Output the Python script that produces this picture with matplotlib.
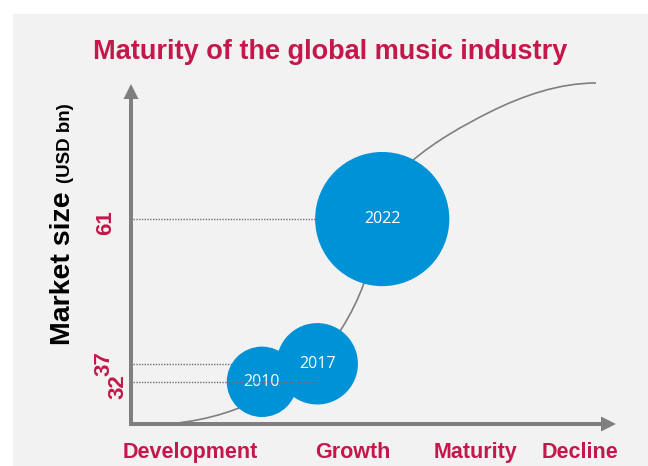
import numpy as np
import matplotlib
matplotlib.use('Agg')
import matplotlib.pyplot as plt
from matplotlib.patches import Rectangle, FancyArrow, PathPatch
from matplotlib.path import Path

# ---------------- data ----------------
title = 'Maturity of the global music industry'
years = ['2010', '2017', '2022']
market_size = [32, 37, 61]            # USD bn
stages = ['Development', 'Growth', 'Maturity', 'Decline']

# ---------------- layout / style ----------------
W, H = 648, 466
AX_L, AX_R, AX_B, AX_T = 131, 616, 424, 84   # axis arrows (pixels)
bubble_x = [27.0, 38.4, 51.8]                # position along lifecycle axis (0-100)
stage_x = [12.2, 45.8, 71.1, 92.6]
label_dx = [13.5, 27.5, 25.5]                # y-label offsets left of axis (px)
label_dy = [-4.5, 0, -4]
power, ymax = 2.45, 75
r_per_bn = 1.1                               # bubble radius px per USD bn
CRIMSON = '#c4174b'
BLUE = '#0092d6'
GRAY = '#7f7f7f'
FONT = ['Liberation Sans', 'DejaVu Sans']

# S-curve knots (pixel coords, slope dy/dx)
knots = [(160, 424, -0.02), (342, 328, -1.6), (364, 283, -2.8), (380, 230, -4.0),
         (412, 161, -0.85), (490, 112, -0.5), (596, 83, 0.0)]

plt.rcParams['font.family'] = FONT
fig = plt.figure(figsize=(W / 100, H / 100), dpi=100)
fig.patch.set_facecolor('white')

bg = fig.add_axes([0, 0, 1, 1])
bg.set_xlim(0, W)
bg.set_ylim(H, 0)
bg.axis('off')
bg.set_zorder(0)
bg.add_patch(Rectangle((13, 14), W - 13, H - 14, color='#f2f2f2', lw=0))

# axis arrows
bg.add_patch(FancyArrow(AX_L, AX_B + 2, 0, AX_T - AX_B - 2, width=4, head_width=15,
                        head_length=15, length_includes_head=True, color=GRAY, lw=0))
bg.add_patch(FancyArrow(AX_L - 2, AX_B, AX_R - AX_L + 2, 0, width=4, head_width=15,
                        head_length=15, length_includes_head=True, color=GRAY, lw=0))

# title
bg.text(330, 59, title, ha='center', va='baseline', fontsize=19.5, fontweight='bold',
        color=CRIMSON)
# y axis title
bg.text(70, 345, 'Market size', rotation=90, rotation_mode='anchor', ha='left',
        va='baseline', fontsize=20.5, fontweight='bold', color='black')
bg.text(70, 183, '(USD bn)', rotation=90, rotation_mode='anchor', ha='left',
        va='baseline', fontsize=13.5, fontweight='bold', color='black')

# main axes
ax = fig.add_axes([AX_L / W, (H - AX_B) / H, (AX_R - AX_L) / W, (AX_B - AX_T) / H])
ax.set_zorder(1)
ax.patch.set_alpha(0)
fwd = lambda v: np.sign(v) * np.abs(v) ** power
inv = lambda u: np.sign(u) * np.abs(u) ** (1 / power)
ax.set_yscale('function', functions=(fwd, inv))
ax.set_xlim(0, 100)
ax.set_ylim(0, ymax)
for s in ax.spines.values():
    s.set_visible(False)
ax.set_yticks([])
ax.set_xticks(stage_x, stages)
ax.tick_params(axis='x', length=0, pad=13, labelcolor=CRIMSON, labelsize=15.5)
for t in ax.get_xticklabels():
    t.set_fontweight('bold')

# S-curve as Bezier path
verts, codes = [], []
for i in range(len(knots) - 1):
    x0, y0, m0 = knots[i]
    x1, y1, m1 = knots[i + 1]
    L = np.hypot(x1 - x0, y1 - y0) / 3
    d0 = np.array([1, m0]) / np.hypot(1, m0)
    d1 = np.array([1, m1]) / np.hypot(1, m1)
    p0 = np.array([x0, y0]); p3 = np.array([x1, y1])
    p1 = p0 + L * d0; p2 = p3 - L * d1
    if i == 0:
        verts.append(p0); codes.append(Path.MOVETO)
    verts += [p1, p2, p3]; codes += [Path.CURVE4] * 3
ax.add_patch(PathPatch(Path(verts, codes), fill=False, edgecolor=GRAY, lw=1.2,
                       transform=bg.transData, clip_on=False, zorder=1))

# dotted guide lines
x_start = 2 / ((AX_R - AX_L) / 100)
for i, v in enumerate(market_size):
    if i == 0:
        ax.hlines(v, x_start, bubble_x[1], colors='#707070', lw=1.0,
                  linestyles=(0, (1, 1)), zorder=4)
    else:
        ax.hlines(v, x_start, bubble_x[i], colors='#707070', lw=1.0,
                  linestyles=(0, (1, 1)), zorder=1.5)

# bubbles
sizes = [(2 * r_per_bn * v * 0.72) ** 2 for v in market_size]
ax.scatter(bubble_x, market_size, s=sizes, color=BLUE, lw=0, zorder=2, clip_on=False)
for x, v, yr in zip(bubble_x, market_size, years):
    ax.text(x, v, yr, ha='center', va='center', color='white', fontsize=11.5,
            family=['Open Sans', 'DejaVu Sans'], zorder=3)

# y value labels
for v, dx, dy in zip(market_size, label_dx, label_dy):
    ax.annotate(str(v), xy=(0, v), xycoords=('axes fraction', 'data'),
                xytext=(-dx * 0.72, dy * 0.72), textcoords='offset points',
                rotation=90, ha='center', va='center', fontsize=16,
                fontweight='bold', color=CRIMSON)

fig.savefig('out.png', dpi=100, facecolor='white')
